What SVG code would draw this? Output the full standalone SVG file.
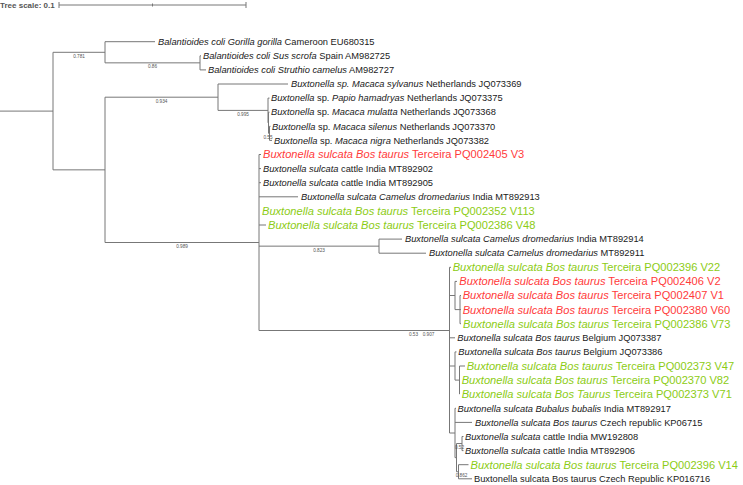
<svg xmlns="http://www.w3.org/2000/svg" width="743" height="485" viewBox="0 0 743 485">
<style>
text{font-family:"Liberation Sans",Arial,sans-serif}
.t{font-size:9.3px;fill:#1a1a1a}
.c{font-size:11.1px}
.red{fill:#ff3b3b}
.grn{fill:#8ccc14}
.i{font-style:italic}
.br{stroke:#777;stroke-width:1;fill:none}
.bs{font-size:4.7px;fill:#555;text-anchor:middle}
.sc{font-size:8px;font-weight:bold;fill:#555}
</style>
<rect width="743" height="485" fill="#fff"/>
<g id="tree-scale">
<text class="sc" x="0" y="8">Tree scale: 0.1</text>
<path class="br" d="M59 5H246M59 2V8M246 2V8M152.5 3.5V6.5" stroke="#666"/>
</g>
<g id="connectors" class="br">
<path d="M0 111.1H53M53 52.3V169.85"/>
<path d="M53 52.3H105M105 41.7V62.85M105 41.7H155M105 62.85H200M200 55.8V69.9M200 55.8H201M200 69.9H206"/>
<path d="M53 169.85H105M105 97.2V242.5"/>
<path d="M105 97.2H218M218 84V110.4M218 84H288M218 110.4H268M268 98.1V122.8M268 98.1H269.5M268 122.8H268.5M268.5 112.2V133.35M268.5 112.2H269.5M268.5 133.35H269.5M269.5 126.3V140.4M269.5 126.3H270.5M269.5 140.4H272"/>
<path d="M105 242.5H259M259 154.5V330.5M259 154.5H261M259 168.6H261M259 182.7H261M259 196.8H298M259 225H266"/>
<path d="M259 246.15H379M379 239.1V253.2M379 239.1H402M379 253.2H426"/>
<path d="M259 330.5H449.5M449.5 267.3V433M449.5 267.3H451"/>
<path d="M449.5 295.5H455M455 281.4V309.6M455 281.4H457M455 309.6H460M460 295.5V323.7M460 295.5H461M460 309.6H461M460 323.7H461"/>
<path d="M449.5 337.8H455"/>
<path d="M449.5 366H455M455 351.9V380.1M455 351.9H456.5M455 380.1H459.5M459.5 366V394.2M459.5 366H465M459.5 380.1H460"/>
<path d="M449.5 433H455M455 408.3V457.65M455 408.3H456M455 422.4H472M455 457.65H456.5M456.5 443.55V471.75M456.5 443.55H462M462 436.5V450.6M462 436.5H463.5M462 450.6H463.5M456.5 471.75H458.5M458.5 464.7V478.8M458.5 464.7H468.5M458.5 478.8H472"/>
</g>
<g id="support-values">
<text class="bs" x="79" y="57.5">0.781</text>
<text class="bs" x="152.5" y="68">0.86</text>
<text class="bs" x="161.5" y="102.5">0.934</text>
<text class="bs" x="243" y="115.8">0.995</text>
<text class="bs" x="268" y="138.5">0.55</text>
<text class="bs" x="182" y="248">0.989</text>
<text class="bs" x="319" y="251.5">0.823</text>
<text class="bs" x="413.5" y="336">0.53</text>
<text class="bs" x="428.5" y="336">0.907</text>
<text class="bs" x="459.5" y="448.5">0.52</text>
<text class="bs" x="461.5" y="477">0.862</text>
</g>
<g id="n01"><text class="t" x="158" y="44.9"><tspan class="i">Balantioides coli Gorilla gorilla</tspan> Cameroon EU680315</text></g>
<g id="n02"><text class="t" x="203" y="59"><tspan class="i">Balantioides coli Sus scrofa</tspan> Spain AM982725</text></g>
<g id="n03"><text class="t" x="208" y="73.1"><tspan class="i">Balantioides coli Struthio camelus</tspan> AM982727</text></g>
<g id="n04"><text class="t" x="291" y="87.2"><tspan class="i">Buxtonella sp. Macaca sylvanus</tspan> Netherlands JQ073369</text></g>
<g id="n05"><text class="t" x="271" y="101.3"><tspan class="i">Buxtonella</tspan> sp. <tspan class="i">Papio hamadryas</tspan> Netherlands JQ073375</text></g>
<g id="n06"><text class="t" x="271" y="115.4"><tspan class="i">Buxtonella</tspan> sp. <tspan class="i">Macaca mulatta</tspan> Netherlands JQ073368</text></g>
<g id="n07"><text class="t" x="272" y="129.5"><tspan class="i">Buxtonella</tspan> sp. <tspan class="i">Macaca silenus</tspan> Netherlands JQ073370</text></g>
<g id="n08"><text class="t" x="274" y="143.6"><tspan class="i">Buxtonella</tspan> sp. <tspan class="i">Macaca nigra</tspan> Netherlands JQ073382</text></g>
<g id="n09"><text class="t c red" x="263" y="158.4"><tspan class="i">Buxtonella sulcata Bos taurus</tspan> Terceira PQ002405 V3</text></g>
<g id="n10"><text class="t" x="263" y="171.8"><tspan class="i">Buxtonella sulcata</tspan> cattle India MT892902</text></g>
<g id="n11"><text class="t" x="263" y="185.9"><tspan class="i">Buxtonella sulcata</tspan> cattle India MT892905</text></g>
<g id="n12"><text class="t" x="301" y="200"><tspan class="i">Buxtonella sulcata Camelus dromedarius</tspan> India MT892913</text></g>
<g id="n13"><text class="t c grn" x="262" y="214.8"><tspan class="i">Buxtonella sulcata Bos taurus</tspan> Terceira PQ002352 V113</text></g>
<g id="n14"><text class="t c grn" x="268" y="228.9"><tspan class="i">Buxtonella sulcata Bos taurus</tspan> Terceira PQ002386 V48</text></g>
<g id="n15"><text class="t" x="405" y="242.3"><tspan class="i">Buxtonella sulcata Camelus dromedarius</tspan> India MT892914</text></g>
<g id="n16"><text class="t" x="429" y="256.4"><tspan class="i">Buxtonella sulcata Camelus dromedarius</tspan> MT892911</text></g>
<g id="n17"><text class="t c grn" x="452.7" y="271.2"><tspan class="i">Buxtonella sulcata Bos taurus</tspan> Terceira PQ002396 V22</text></g>
<g id="n18"><text class="t c red" x="459.3" y="285.3"><tspan class="i">Buxtonella sulcata Bos taurus</tspan> Terceira PQ002406 V2</text></g>
<g id="n19"><text class="t c red" x="462.7" y="299.4"><tspan class="i">Buxtonella sulcata Bos taurus</tspan> Terceira PQ002407 V1</text></g>
<g id="n20"><text class="t c red" x="462.7" y="313.5"><tspan class="i">Buxtonella sulcata Bos taurus</tspan> Terceira PQ002380 V60</text></g>
<g id="n21"><text class="t c grn" x="463" y="327.6"><tspan class="i">Buxtonella sulcata Bos taurus</tspan> Terceira PQ002386 V73</text></g>
<g id="n22"><text class="t" x="457.3" y="341"><tspan class="i">Buxtonella sulcata Bos taurus</tspan> Belgium JQ073387</text></g>
<g id="n23"><text class="t" x="458.3" y="355.1"><tspan class="i">Buxtonella sulcata Bos taurus</tspan> Belgium JQ073386</text></g>
<g id="n24"><text class="t c grn" x="466.7" y="369.9"><tspan class="i">Buxtonella sulcata Bos taurus</tspan> Terceira PQ002373 V47</text></g>
<g id="n25"><text class="t c grn" x="461.7" y="384"><tspan class="i">Buxtonella sulcata Bos taurus</tspan> Terceira PQ002370 V82</text></g>
<g id="n26"><text class="t c grn" x="461.7" y="398.1"><tspan class="i">Buxtonella sulcata Bos Taurus</tspan> Terceira PQ002373 V71</text></g>
<g id="n27"><text class="t" x="457.5" y="411.5"><tspan class="i">Buxtonella sulcata Bubalus bubalis</tspan> India MT892917</text></g>
<g id="n28"><text class="t" x="475" y="425.6"><tspan class="i">Buxtonella sulcata Bos taurus</tspan> Czech republic KP06715</text></g>
<g id="n29"><text class="t" x="465" y="439.7"><tspan class="i">Buxtonella sulcata</tspan> cattle India MW192808</text></g>
<g id="n30"><text class="t" x="465" y="453.8"><tspan class="i">Buxtonella sulcata</tspan> cattle India MT892906</text></g>
<g id="n31"><text class="t c grn" x="470.5" y="468.6"><tspan class="i">Buxtonella sulcata Bos taurus</tspan> Terceira PQ002396 V14</text></g>
<g id="n32"><text class="t" x="474" y="482">Buxtonella sulcata Bos taurus Czech Republic KP016716</text></g>
</svg>
